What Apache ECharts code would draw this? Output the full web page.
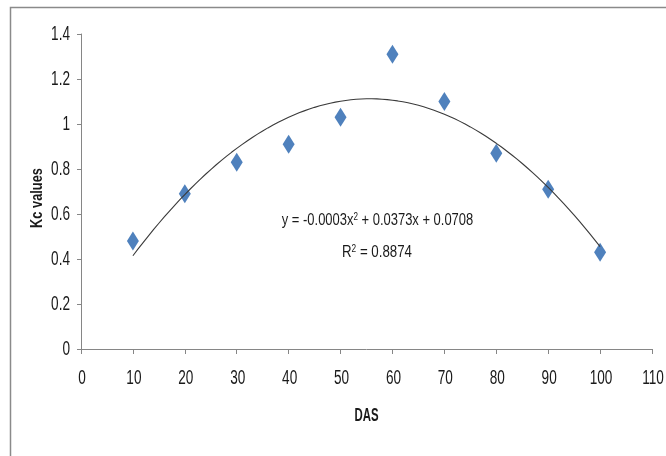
<!DOCTYPE html>
<html>
<head>
<meta charset="utf-8">
<script src="https://cdn.jsdelivr.net/npm/echarts@6/dist/echarts.min.js"></script>
<style>
html,body{margin:0;padding:0;background:#fff;}
#chart{width:666px;height:456px;}
</style>
</head>
<body>
<div id="chart"></div>
<script>
// Data
var das = [10, 20, 30, 40, 50, 60, 70, 80, 90, 100];
var kc = [0.48, 0.69, 0.83, 0.91, 1.03, 1.31, 1.10, 0.87, 0.71, 0.43];
var xTickValues = [0, 10, 20, 30, 40, 50, 60, 70, 80, 90, 100, 110];
var xTickLabels = ['0', '10', '20', '30', '40', '50', '60', '70', '80', '90', '100', '110'];
var yTickValues = [0, 0.2, 0.4, 0.6, 0.8, 1.0, 1.2, 1.4];
var yTickLabels = ['0', '0.2', '0.4', '0.6', '0.8', '1', '1.2', '1.4'];
var equationText = 'y = -0.0003x{sup|2} + 0.0373x + 0.0708';
var r2Text = 'R{sup|2} = 0.8874';
var xTitle = 'DAS';
var yTitle = 'Kc values';

// Least-squares quadratic trendline computed from the data (as Excel does)
function quadFit(xs, ys) {
  var n = xs.length, s = [0,0,0,0,0], t = [0,0,0];
  for (var i = 0; i < n; i++) {
    var x = xs[i], y = ys[i];
    for (var k = 0; k < 5; k++) s[k] += Math.pow(x, k);
    for (var k2 = 0; k2 < 3; k2++) t[k2] += y * Math.pow(x, k2);
  }
  var M = [[s[0], s[1], s[2], t[0]], [s[1], s[2], s[3], t[1]], [s[2], s[3], s[4], t[2]]];
  for (var c = 0; c < 3; c++) {
    for (var r = c + 1; r < 3; r++) {
      var f = M[r][c] / M[c][c];
      for (var j = c; j < 4; j++) M[r][j] -= f * M[c][j];
    }
  }
  var coef = [0, 0, 0];
  for (var r2 = 2; r2 >= 0; r2--) {
    var v = M[r2][3];
    for (var j2 = r2 + 1; j2 < 3; j2++) v -= M[r2][j2] * coef[j2];
    coef[r2] = v / M[r2][r2];
  }
  return coef;
}
var coef = quadFit(das, kc);
var trend = [];
for (var x = das[0]; x <= das[das.length - 1]; x += 1) {
  trend.push([x, coef[0] + coef[1] * x + coef[2] * x * x]);
}

var FAM = "'Liberation Sans', Arial, sans-serif";
var TXT = '#1a1a1a';
var chart = echarts.init(document.getElementById('chart'), null, {renderer: 'canvas'});
chart.setOption({
  animation: false,
  backgroundColor: '#ffffff',
  grid: {left: 81, top: 34, right: 14, bottom: 107, containLabel: false},
  xAxis: {
    type: 'value', min: xTickValues[0], max: xTickValues[xTickValues.length - 1],
    interval: xTickValues[1] - xTickValues[0],
    axisLine: {show: true, lineStyle: {color: '#868686', width: 1}},
    axisTick: {show: true, length: 5, lineStyle: {color: '#868686'}},
    axisLabel: {show: false},
    splitLine: {show: false}
  },
  yAxis: {
    type: 'value', min: yTickValues[0], max: yTickValues[yTickValues.length - 1],
    interval: 0.2,
    axisLine: {show: true, lineStyle: {color: '#868686', width: 1}},
    axisTick: {show: true, length: 4, lineStyle: {color: '#868686'}},
    axisLabel: {show: false},
    splitLine: {show: false}
  },
  series: [
    {
      type: 'scatter', name: 'Kc', data: das.map(function (d, i) { return [d, kc[i]]; }),
      symbol: 'diamond', symbolSize: [12, 19],
      itemStyle: {color: '#4F81BD', opacity: 1}, z: 2
    },
    {
      type: 'line', name: 'Trend', data: trend, showSymbol: false, symbol: 'none',
      lineStyle: {color: '#3a3a3a', width: 1.1}, z: 3
    }
  ]
});

// Condensed text labels (the reference uses a narrow font), placed through the axis scales
var axisX = chart.convertToPixel({xAxisIndex: 0}, 0);
var axisY = chart.convertToPixel({yAxisIndex: 0}, 0);
var graphics = [
  {type: 'rect', silent: true, z: -10,
   shape: {x: 10.5, y: 7.5, width: 700, height: 500},
   style: {fill: 'none', stroke: '#8a8a8a', lineWidth: 1.5}}
];
yTickValues.forEach(function (v, i) {
  graphics.push({type: 'text', silent: true, x: axisX - 11, y: chart.convertToPixel({yAxisIndex: 0}, v) + 0.5,
    scaleX: 0.68,
    style: {text: yTickLabels[i], font: '20px ' + FAM, fill: TXT, align: 'right', verticalAlign: 'middle'}});
});
xTickValues.forEach(function (v, i) {
  graphics.push({type: 'text', silent: true, x: chart.convertToPixel({xAxisIndex: 0}, v) + 1, y: axisY + 29,
    scaleX: 0.68,
    style: {text: xTickLabels[i], font: '20px ' + FAM, fill: TXT, align: 'center', verticalAlign: 'middle'}});
});
var midX = (chart.convertToPixel({xAxisIndex: 0}, xTickValues[0]) + chart.convertToPixel({xAxisIndex: 0}, xTickValues[xTickValues.length - 1])) / 2;
graphics.push({type: 'text', silent: true, x: midX, y: axisY + 67, scaleX: 0.6,
  style: {text: xTitle, font: 'bold 19px ' + FAM, fill: TXT, align: 'center', verticalAlign: 'middle'}});
graphics.push({type: 'text', silent: true, x: 37.5, y: 198, rotation: Math.PI / 2, scaleX: 0.8,
  style: {text: yTitle, font: 'bold 16px ' + FAM, fill: TXT, align: 'center', verticalAlign: 'middle'}});
var supStyle = {font: '10px ' + FAM, fill: TXT, verticalAlign: 'top', padding: [0, 0, 7, 0]};
graphics.push({type: 'text', silent: true, x: 377.5, y: 221, scaleX: 0.81,
  style: {text: equationText, font: '16px ' + FAM, fill: TXT, align: 'center', verticalAlign: 'middle',
          rich: {sup: supStyle}}});
graphics.push({type: 'text', silent: true, x: 377, y: 253, scaleX: 0.83,
  style: {text: r2Text, font: '16px ' + FAM, fill: TXT, align: 'center', verticalAlign: 'middle',
          rich: {sup: supStyle}}});
chart.setOption({graphic: graphics});
</script>
</body>
</html>
